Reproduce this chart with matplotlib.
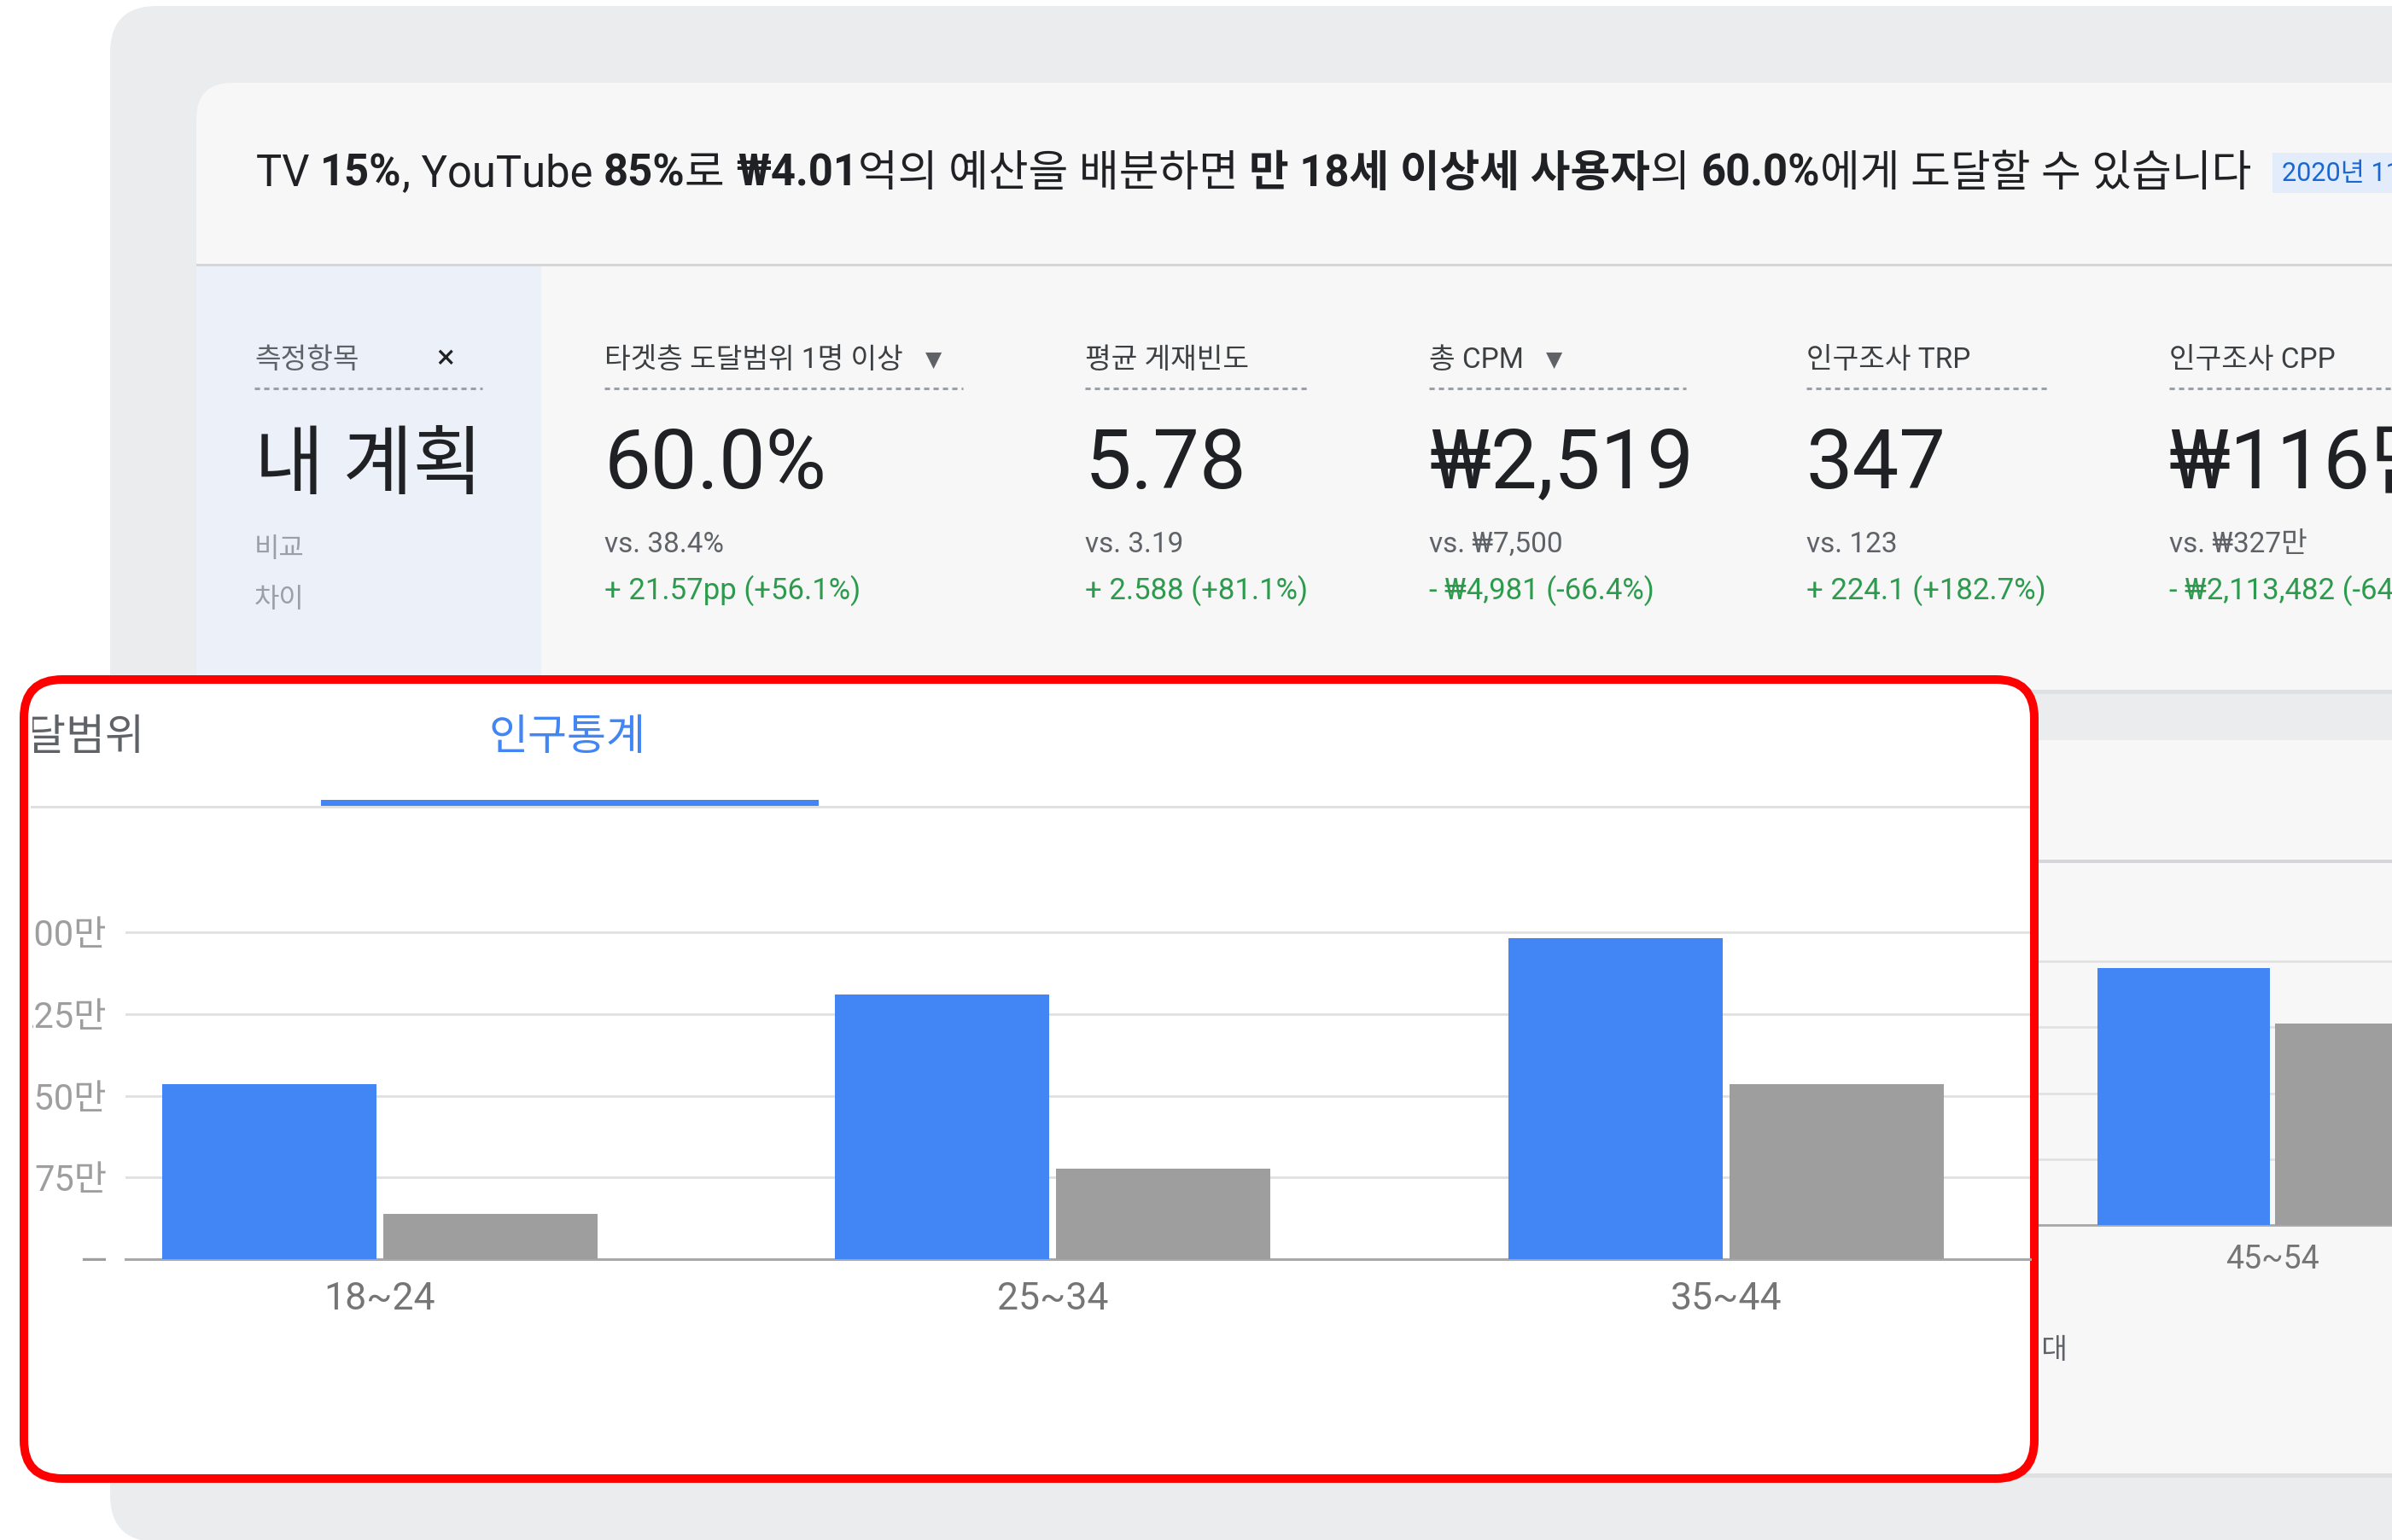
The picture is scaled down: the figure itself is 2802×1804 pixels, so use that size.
import matplotlib
matplotlib.use("Agg")
import numpy as np
import matplotlib.pyplot as plt
from matplotlib.patches import FancyBboxPatch, Rectangle
from matplotlib.transforms import Bbox, TransformedBbox

plt.rcParams['font.family'] = ['Roboto', 'Noto Sans CJK KR', 'DejaVu Sans']

# ---- data ----
header_parts = [("TV ", False), ("15%", True), (", YouTube ", False), ("85%", True),
                ("로 ", False), ("₩4.01", True), ("억의 예산을 배분하면 ", False),
                ("만 18세 이상세 사용자", True), ("의 ", False), ("60.0%", True),
                ("에게 도달할 수 있습니다", False)]
badge_text = "2020년 11월 기준"

metric_names = ["타겟층 도달범위 1명 이상", "평균 게재빈도", "총 CPM", "인구조사 TRP", "인구조사 CPP"]
metric_values = ["60.0%", "5.78", "₩2,519", "347", "₩116만"]
metric_vs = ["vs. 38.4%", "vs. 3.19", "vs. ₩7,500", "vs. 123", "vs. ₩327만"]
metric_diff = ["+ 21.57pp (+56.1%)", "+ 2.588 (+81.1%)", "- ₩4,981 (-66.4%)",
               "+ 224.1 (+182.7%)", "- ₩2,113,482 (-64.6%)"]
metric_dropdown = [True, False, True, False, False]

tabs = ["도달범위", "인구통계"]
age_groups = ["18~24", "25~34", "35~44", "45~54"]
plan_reach = [161, 243, 295, 292]      # 만 명, 내 계획
compare_reach = [41.5, 83, 161, 229]   # 만 명, 비교
y_ticks = [0, 75, 150, 225, 300]
y_tick_labels = ["—", "75만", "150만", "225만", "300만"]

# ---- colours ----
BLUE = "#4285F4"
GREY_BAR = "#9E9E9E"
TXT = "#202124"
SUB = "#5F6368"
GREEN = "#2D9B4E"

W, H = 2802, 1804
fig = plt.figure(figsize=(W / 200, H / 200), dpi=200)
fig.patch.set_facecolor("white")


def px_axes(x0, y0, x1, y1, z):
    a = fig.add_axes([x0 / W, 1 - y1 / H, (x1 - x0) / W, (y1 - y0) / H], zorder=z)
    return a


bg = px_axes(0, 0, W, H, 0)
bg.set_xlim(0, W)
bg.set_ylim(H, 0)
bg.axis("off")

# page cards
bg.add_patch(FancyBboxPatch((129, 7), 3000, 1799, boxstyle="round,pad=0,rounding_size=55",
                            fc="#EBECEE", ec="none"))
bg.add_patch(FancyBboxPatch((230, 97), 3000, 711, boxstyle="round,pad=0,rounding_size=42",
                            fc="#F7F7F7", ec="none"))
bg.add_patch(Rectangle((230, 808), 3000, 5, fc="#DFE0E2", ec="none"))
bg.add_patch(Rectangle((230, 309), 3000, 3, fc="#D5D6D9", ec="none"))
bg.add_patch(Rectangle((230, 312), 404, 496, fc="#ECF1F9", ec="none"))
bg.add_patch(FancyBboxPatch((230, 867), 3000, 859, boxstyle="round,pad=0,rounding_size=42",
                            fc="#F7F7F7", ec="none"))
bg.add_patch(Rectangle((230, 1726), 3000, 5, fc="#DFE0E2", ec="none"))
bg.add_patch(Rectangle((230, 1007), 3000, 4, fc="#D5D6D9", ec="none"))
bg.text(2423, 1582, "연령대", fontsize=12, color=SUB, ha="right", va="center")

renderer = fig.canvas.get_renderer()


def text_width(s, size, weight):
    t1 = bg.text(0, 0, "|" + s + "|", fontsize=size, fontweight=weight)
    t2 = bg.text(0, 0, "||", fontsize=size, fontweight=weight)
    w = t1.get_window_extent(renderer).width - t2.get_window_extent(renderer).width
    t1.remove()
    t2.remove()
    return w


# header sentence with bold fragments, fitted to the original width
hx0, hx1, hy = 300, 2638, 218
size = 20
total = sum(text_width(s, size, "bold" if b else "normal") for s, b in header_parts)
size = size * (hx1 - hx0) / total
x = hx0
for s, b in header_parts:
    wt = "bold" if b else "normal"
    bg.text(x, hy, s, fontsize=size, fontweight=wt, color=TXT, va="baseline", ha="left")
    x += text_width(s, size, wt)

bg.add_patch(Rectangle((2662, 179), 400, 47, fc="#E3ECFA", ec="none"))
bg.text(2673, 203, badge_text, fontsize=11, color="#1967D2", va="center", ha="left")

# metric column 0
bg.text(298, 431, "측정항목", fontsize=12, color=SUB, va="baseline")
bg.text(522, 431, "×", fontsize=14, color=TXT, va="baseline", ha="center")
bg.plot([298, 565], [455, 455], color="#9AA0A6", lw=1.1, ls=(0, (2, 1.6)))
bg.text(298, 572, "내 계획", fontsize=32, color=TXT, va="baseline")
bg.text(298, 652, "비교", fontsize=11.5, color="#9AA0A6", va="baseline")
bg.text(298, 711, "차이", fontsize=11.5, color="#9AA0A6", va="baseline")

col_x = [708, 1271, 1674, 2116, 2541]
col_end = [1128, 1533, 1975, 2400, 2900]
for i in range(len(metric_names)):
    cx = col_x[i]
    bg.text(cx, 431, metric_names[i], fontsize=12, color="#3C4043", va="baseline")
    if metric_dropdown[i]:
        lw_ = text_width(metric_names[i], 12, "normal")
        bg.text(cx + lw_ + 36, 422, "▼", fontsize=9, color=SUB, ha="center", va="center",
                family=["DejaVu Sans"])
    bg.plot([cx, col_end[i]], [455, 455], color="#9AA0A6", lw=1.1, ls=(0, (2, 1.6)))
    bg.text(cx, 572, metric_values[i], fontsize=35, color=TXT, va="baseline")
    bg.text(cx, 647, metric_vs[i], fontsize=12, color=SUB, va="baseline")
    bg.text(cx, 702, metric_diff[i], fontsize=12.5, color=GREEN, va="baseline")

# ---- original (un-zoomed) chart behind the highlight ----
bar_w = 0.3183
bar_off = 0.164
xs = np.arange(len(age_groups))

bc = px_axes(230, 1435 - 320 / 75 * 77.2, W, 1435, 1)
bc.patch.set_alpha(0)
bc.bar(xs - bar_off, plan_reach, width=bar_w, color=BLUE, zorder=3)
bc.bar(xs + bar_off, compare_reach, width=bar_w, color=GREY_BAR, zorder=3)
bc.set_yticks(y_ticks)
bc.set_yticklabels([])
bc.yaxis.grid(True, color="#E0E0E0", lw=0.9)
bc.set_axisbelow(True)
bc.set_xticks(xs)
bc.set_xticklabels(age_groups, fontsize=13.5, color="#757575")
bc.set_xlim((230 - 760) / 634, (W - 760) / 634)
bc.set_ylim(0, 320)
bc.tick_params(length=0, pad=8)
for sp in ["top", "left", "right"]:
    bc.spines[sp].set_visible(False)
bc.spines["bottom"].set_color("#A8A8A8")
bc.spines["bottom"].set_linewidth(1.0)

# ---- highlight panel ----
ov = px_axes(0, 0, W, H, 2)
ov.set_xlim(0, W)
ov.set_ylim(H, 0)
ov.axis("off")
ov.patch.set_alpha(0)
ov.add_patch(FancyBboxPatch((28, 796), 2355, 936, boxstyle="round,pad=0,rounding_size=45",
                            fc="white", ec="#FF0000", lw=3.6, zorder=1))
clip = TransformedBbox(Bbox([[38, 0], [W, H]]), ov.transData)
t = ov.text(169, 864, tabs[0], fontsize=18, color=SUB, ha="right", va="center", zorder=2)
t.set_clip_box(clip)
t.set_clip_on(True)
ov.text(665, 864, tabs[1], fontsize=18, color=BLUE, ha="center", va="center", zorder=2)
ov.add_patch(Rectangle((36, 944), 2342, 3, fc="#E0E0E0", ec="none", zorder=2))
ov.add_patch(Rectangle((376, 937), 583, 7, fc=BLUE, ec="none", zorder=3))

# ---- zoomed chart ----
zc = px_axes(147, 1475 - 320 / 75 * 95.7, 2378, 1475, 3)
zc.patch.set_alpha(0)
zc.bar(xs - bar_off, plan_reach, width=bar_w, color=BLUE, zorder=3)
zc.bar(xs + bar_off, compare_reach, width=bar_w, color=GREY_BAR, zorder=3)
zc.set_yticks(y_ticks)
zc.set_yticklabels(y_tick_labels, fontsize=15, color="#9E9E9E")
zc.yaxis.grid(True, color="#E0E0E0", lw=1.0)
zc.set_axisbelow(True)
zc.set_xticks(xs)
zc.set_xticklabels(age_groups, fontsize=16, color="#757575")
zc.set_xlim((147 - 444.75) / 788.5, (2378 - 444.75) / 788.5)
zc.set_ylim(0, 320)
zc.tick_params(axis="y", length=0, pad=7.9)
zc.tick_params(axis="x", length=0, pad=9.5)
for sp in ["top", "left", "right"]:
    zc.spines[sp].set_visible(False)
zc.spines["bottom"].set_color("#A8A8A8")
zc.spines["bottom"].set_linewidth(1.1)
for lbl in zc.get_yticklabels():
    lbl.set_clip_box(clip)
    lbl.set_clip_on(True)

fig.savefig("out.png", dpi=200)
